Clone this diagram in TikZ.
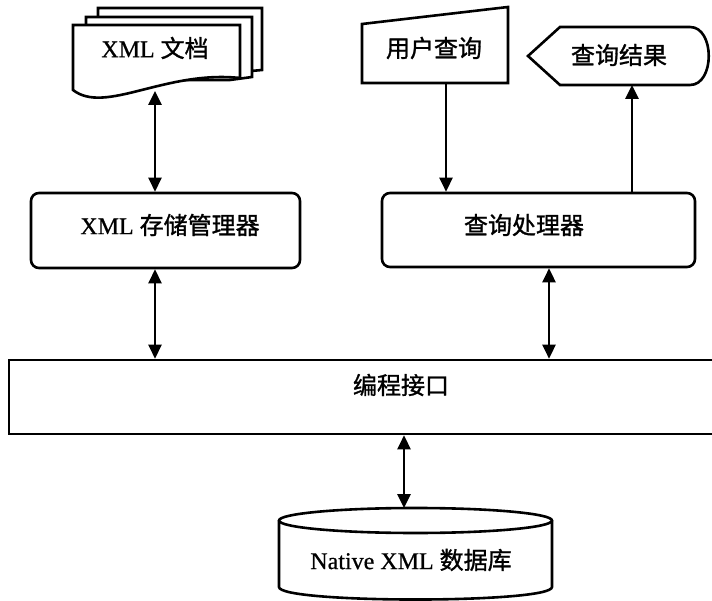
\documentclass[tikz,border=0pt]{standalone}
\usepackage{fontspec}
\setmainfont[FakeBold=0.6]{Liberation Serif}
\newfontfamily\cjk[FakeBold=1.2]{Noto Sans CJK SC}
\usetikzlibrary{arrows.meta}
\begin{document}
\begin{tikzpicture}[x=1pt,y=-1pt,
  line width=2.6pt,
  lbl/.style={font=\fontsize{24}{27}\selectfont, inner sep=0pt},
  pbox/.style={draw, rounded corners=8pt, inner sep=0pt},
  flatbox/.style={draw, inner sep=0pt},
  tip/.style={-{Triangle[length=14pt,width=13pt]}},
  dtip/.style={{Triangle[length=14pt,width=13pt]}-{Triangle[length=14pt,width=13pt]}},
  sheet/.style={draw, fill=white, line join=miter}
]
\useasboundingbox (0,0) rectangle (712,601);
\clip (0,0) rectangle (712,601);

% stack of XML documents (back to front)
\draw[sheet] (98,8) -- (262,8) -- (262,70) -- (240,72) -- (98,72) -- cycle;
\draw[sheet] (86,17) -- (252,17) -- (252,77) -- (230,80) -- (86,80) -- cycle;
\draw[sheet] (73,25) -- (240,25) -- (240,78)
  .. controls (165,70) and (105,115) .. (73,90) -- cycle;
\node[lbl] (doc) at (155,48) {XML {\cjk 文档}};
\coordinate (docB) at (155,91);

% manual input: user query
\draw[line join=miter] (362,24) -- (508,7) -- (508,83) -- (362,83) -- cycle;
\node[lbl] (uq) at (434,48) {\cjk 用户查询};
\coordinate (uqB) at (446,83);

% display: query result
\draw[line join=miter] (528,56) -- (560,27) -- (690,27)
  .. controls (715,27) and (715,85) .. (690,85) -- (560,85) -- cycle;
\node[lbl] (res) at (619,55) {\cjk 查询结果};
\coordinate (resB) at (632,85);

% processing boxes
\node[pbox, minimum width=269pt, minimum height=75pt,
  label={[lbl,xshift=4.5pt,yshift=5.5pt]center:XML {\cjk 存储管理器}}]
  (store) at (165.5,230.5) {};
\node[pbox, minimum width=313pt, minimum height=74pt,
  label={[lbl,xshift=-14.5pt,yshift=5pt]center:{\cjk 查询处理器}}]
  (qp) at (538.5,230) {};

% programming interface (runs past the right edge)
\node[flatbox, minimum width=731pt, minimum height=74pt,
  label={[lbl,xshift=26.5pt,yshift=12pt]center:{\cjk 编程接口}}]
  (iface) at (374.5,397) {};

% native XML database cylinder
\draw (279,520.5) -- (279,587) .. controls (279,603.7) and (552,603.7) .. (552,587) -- (552,520.5);
\draw (415.5,520.5) ellipse [x radius=136.5, y radius=12.5];
\node[lbl] (db) at (411,560) {Native XML {\cjk 数据库}};
\coordinate (dbT) at (404,508);

% connectors
\coordinate (qx) at (549,0);
\draw[dtip] (docB) -- (docB |- store.north);
\draw[dtip] (store.south -| docB) -- (iface.north -| docB);
\draw[tip] (uqB) -- (uqB |- qp.north);
\draw[tip] (resB |- qp.north) -- (resB);
\draw[dtip] (qp.south -| qx) -- (iface.north -| qx);
\draw[dtip] (iface.south -| dbT) -- (dbT);
\end{tikzpicture}
\end{document}
